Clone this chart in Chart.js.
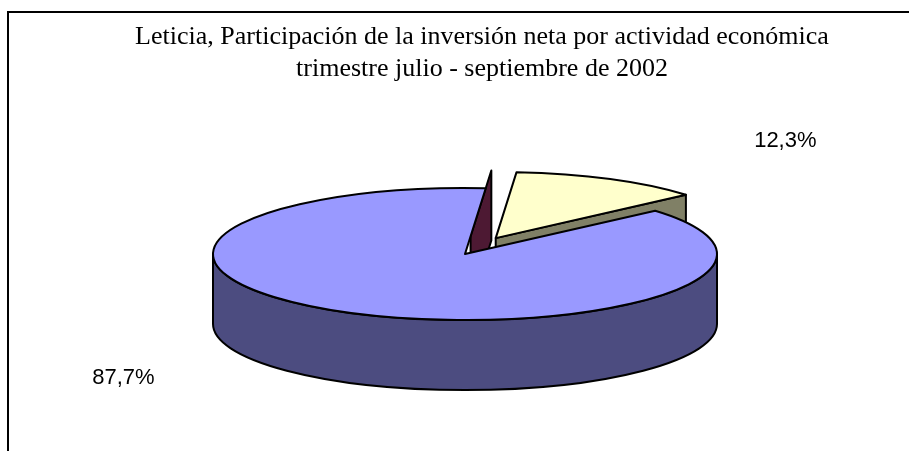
<!DOCTYPE html>
<html>
<head>
<meta charset="utf-8">
<script src="https://cdn.jsdelivr.net/npm/chart.js@4.4.1/dist/chart.umd.min.js"></script>
<style>
  html, body { margin: 0; padding: 0; background: #ffffff; }
  #wrap { position: relative; width: 909px; height: 451px; }
  canvas { display: block; }
</style>
</head>
<body>
<div id="wrap"><canvas id="c" width="909" height="451"></canvas></div>
<script>
// ---- data ----
const titleLines = [
  'Leticia, Participación de la inversión neta por actividad económica',
  'trimestre julio - septiembre de 2002'
];
const categories = ['Categoría 1', 'Categoría 2', 'Categoría 3'];
const shares = [87.7, 0, 12.3];
const sliceColors = ['#9999FF', '#993366', '#FFFFCC'];
const sideColors = ['#4C4C80', '#4D1933', '#808066'];

function fmtPct(v) { return v.toFixed(1).replace('.', ',') + '%'; }

const frame = {
  id: 'frame',
  beforeDraw(chart) {
    const ctx = chart.ctx;
    ctx.save();
    ctx.fillStyle = '#ffffff';
    ctx.fillRect(0, 0, chart.width, chart.height);
    ctx.strokeStyle = '#000000';
    ctx.lineWidth = 2;
    ctx.beginPath();
    ctx.moveTo(8, chart.height + 2);
    ctx.lineTo(8, 12);
    ctx.lineTo(chart.width + 2, 12);
    ctx.stroke();
    ctx.restore();
  }
};

const pie3d = {
  id: 'pie3d',
  beforeDatasetDraw() { return false; },
  afterDatasetsDraw(chart, args, o) {
    const ctx = chart.ctx;
    const meta = chart.getDatasetMeta(0);
    const ds = chart.data.datasets[0];
    const s = o.ry / o.rx;
    const slices = meta.data.map((arc, i) => {
      const a = arc.startAngle, b = arc.endAngle, m = (a + b) / 2;
      const d = o.explode[i] || 0;
      return { i, a, b, m, d,
        ox: o.cx + d * Math.cos(m),
        oy: o.cy + d * s * Math.sin(m) };
    });
    const order = slices.slice().sort((p, q) => Math.sin(p.m) - Math.sin(q.m));
    ctx.save();
    ctx.lineJoin = 'round';
    ctx.strokeStyle = '#000000';
    ctx.lineWidth = 2;
    const radialWall = (sl, t) => {
      const ex = sl.ox + o.rx * Math.cos(t), ey = sl.oy + o.ry * Math.sin(t);
      ctx.beginPath();
      ctx.moveTo(sl.ox, sl.oy);
      ctx.lineTo(ex, ey);
      ctx.lineTo(ex, ey + o.depth);
      ctx.lineTo(sl.ox, sl.oy + o.depth);
      ctx.closePath();
      ctx.fillStyle = sideColors[sl.i];
      ctx.fill();
      ctx.stroke();
    };
    order.forEach(sl => {
      if (sl.d > 0) {
        if (Math.cos(sl.a) < 0) radialWall(sl, sl.a);
        if (Math.cos(sl.b) > 0) radialWall(sl, sl.b);
      }
      for (let k = -2; k <= 2; k++) {
        const lo = Math.max(sl.a, 2 * Math.PI * k);
        const hi = Math.min(sl.b, 2 * Math.PI * k + Math.PI);
        if (hi > lo + 1e-6) {
          ctx.beginPath();
          ctx.ellipse(sl.ox, sl.oy, o.rx, o.ry, 0, lo, hi);
          ctx.lineTo(sl.ox + o.rx * Math.cos(hi), sl.oy + o.ry * Math.sin(hi) + o.depth);
          ctx.ellipse(sl.ox, sl.oy + o.depth, o.rx, o.ry, 0, hi, lo, true);
          ctx.closePath();
          ctx.fillStyle = sideColors[sl.i];
          ctx.fill();
          ctx.stroke();
        }
      }
      if (sl.b - sl.a > 1e-6) {
        ctx.beginPath();
        ctx.moveTo(sl.ox, sl.oy);
        ctx.ellipse(sl.ox, sl.oy, o.rx, o.ry, 0, sl.a, sl.b);
        ctx.closePath();
        ctx.fillStyle = ds.backgroundColor[sl.i];
        ctx.fill();
        ctx.stroke();
      }
    });
    ctx.fillStyle = '#000000';
    ctx.font = o.labelFont;
    ctx.textAlign = 'center';
    ctx.textBaseline = 'middle';
    slices.forEach(sl => {
      const v = ds.data[sl.i];
      if (!v) return;
      const x = o.cx + o.labelRX[sl.i] * Math.cos(sl.m);
      const y = o.cy + o.labelRY[sl.i] * Math.sin(sl.m);
      ctx.fillText(fmtPct(v), x, y);
    });
    ctx.restore();
  }
};

new Chart(document.getElementById('c'), {
  type: 'pie',
  data: {
    labels: categories,
    datasets: [{
      data: shares,
      backgroundColor: sliceColors,
      borderColor: '#000000',
      borderWidth: 1
    }]
  },
  options: {
    responsive: false,
    animation: false,
    rotation: 49,
    layout: { padding: { left: 55, right: 0, top: 0, bottom: 0 } },
    plugins: {
      legend: { display: false },
      tooltip: { enabled: false },
      title: {
        display: true,
        text: titleLines,
        color: '#000000',
        font: { family: '"Liberation Serif", "Times New Roman", serif', size: 26, weight: 'normal', lineHeight: 1.2 },
        padding: { top: 22, bottom: 0 }
      },
      pie3d: {
        cx: 465, cy: 254, rx: 252, ry: 66, depth: 70,
        explode: [0, 68, 68],
        labelRX: [756, 0, 709],
        labelRY: [139, 0, 127],
        labelFont: '22px "Liberation Sans", Arial, sans-serif'
      }
    }
  },
  plugins: [frame, pie3d]
});
</script>
</body>
</html>
